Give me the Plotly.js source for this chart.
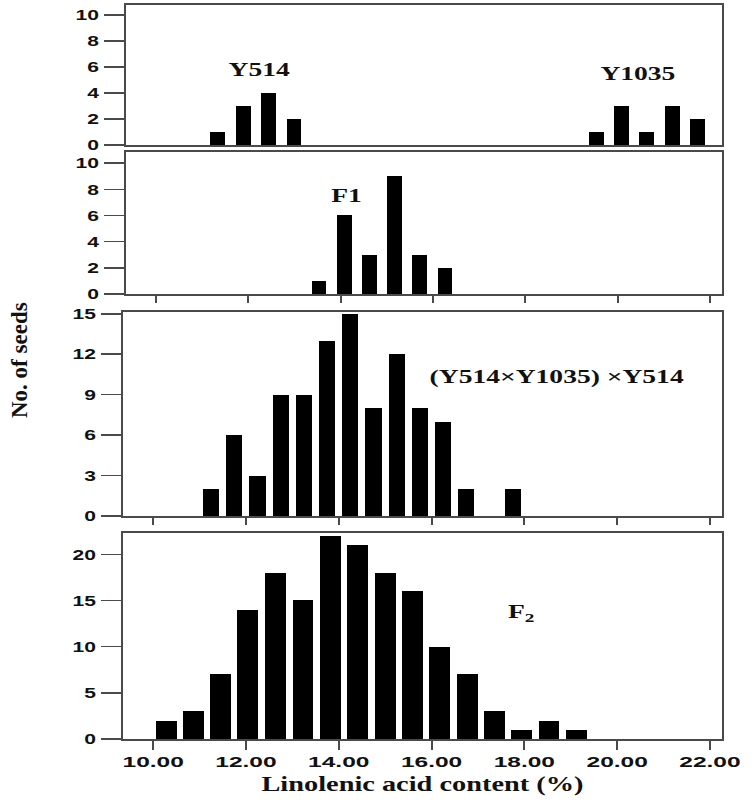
<!DOCTYPE html>
<html>
<head>
<meta charset="utf-8">
<script src="https://cdn.plot.ly/plotly-3.0.1.min.js"></script>
<style>
  html, body { margin: 0; padding: 0; background: #fff; }
  #chart { width: 753px; height: 801px; }
</style>
</head>
<body>
<div id="chart"></div>
<script>
// Bin centres (% linolenic acid) and seed counts
const y514Bins = [11.34, 11.89, 12.44, 12.99];
const y514Counts = [1, 3, 4, 2];
const y1035Bins = [19.54, 20.09, 20.63, 21.18, 21.73];
const y1035Counts = [1, 3, 1, 3, 2];
const f1Bins = [13.53, 14.08, 14.63, 15.17, 15.71, 16.26];
const f1Counts = [1, 6, 3, 9, 3, 2];
const bcBins = [11.25, 11.75, 12.25, 12.75, 13.25, 13.75, 14.25, 14.75, 15.25, 15.75, 16.25, 16.75, 17.75];
const bcCounts = [2, 6, 3, 9, 9, 13, 15, 8, 12, 8, 7, 2, 2];
const f2Bins = [10.29, 10.87, 11.45, 12.04, 12.64, 13.23, 13.82, 14.41, 15.00, 15.59, 16.18, 16.77, 17.35, 17.94, 18.53, 19.12];
const f2Counts = [2, 3, 7, 14, 18, 15, 22, 21, 18, 16, 10, 7, 3, 1, 2, 1];

const xTicks = [10, 12, 14, 16, 18, 20, 22];
const xTickText = ['10.00', '12.00', '14.00', '16.00', '18.00', '20.00', '22.00'];

const W = 753, H = 801;
const px = v => v / W;
const py = v => 1 - v / H;

const frame = '#4a4a4a';
const tickFont = { family: 'Liberation Sans, Arial, sans-serif', size: 14, color: '#111', weight: 'bold' };
const serif = 'Liberation Serif, Times New Roman, serif';

function bars(x, y, width, n) {
  return {
    type: 'bar', x, y, width,
    xaxis: 'x' + (n === 1 ? '' : n), yaxis: 'y' + (n === 1 ? '' : n),
    marker: { color: '#000', line: { width: 0 } },
    hoverinfo: 'x+y',
  };
}

const traces = [
  bars(y514Bins, y514Counts, 0.32, 1),
  bars(y1035Bins, y1035Counts, 0.32, 1),
  bars(f1Bins, f1Counts, 0.32, 2),
  bars(bcBins, bcCounts, 0.35, 3),
  bars(f2Bins, f2Counts, 0.45, 4),
];

function xAxis(left, anchor, opts) {
  return Object.assign({
    domain: [px(left), px(722)],
    anchor,
    range: [9.35, 22.26],
    showline: true, mirror: true, linecolor: frame, linewidth: 2,
    showgrid: false, zeroline: false,
    tickvals: xTicks, ticktext: xTickText,
    ticks: 'outside', ticklen: 7, tickwidth: 2, tickcolor: frame,
    showticklabels: false,
    tickfont: tickFont,
    fixedrange: true,
  }, opts);
}

function yAxis(top, bottom, max, vals, anchor) {
  return {
    domain: [py(bottom), py(top)],
    anchor,
    range: [0, max],
    tickvals: vals,
    showline: true, mirror: true, linecolor: frame, linewidth: 2,
    showgrid: false, zeroline: false,
    ticks: 'outside', ticklen: 20, tickwidth: 1.5, tickcolor: frame,
    tickfont: Object.assign({}, tickFont, { size: 15 }),
    ticklabelstandoff: 2,
    fixedrange: true,
  };
}

const layout = {
  width: W, height: H,
  margin: { l: 0, r: 0, t: 0, b: 0 },
  paper_bgcolor: '#fff', plot_bgcolor: '#fff',
  showlegend: false,
  bargap: 0,
  xaxis: xAxis(126, 'y', { ticks: '' }),
  yaxis: yAxis(5, 145, 10.77, [0, 2, 4, 6, 8, 10], 'x'),
  xaxis2: xAxis(126, 'y2', {}),
  yaxis2: yAxis(152, 294, 10.85, [0, 2, 4, 6, 8, 10], 'x2'),
  xaxis3: xAxis(123, 'y3', {}),
  yaxis3: yAxis(312, 516, 15.13, [0, 3, 6, 9, 12, 15], 'x3'),
  xaxis4: xAxis(123, 'y4', {
    ticklen: 9, showticklabels: true,
    title: { text: 'Linolenic acid content (%)', font: { family: serif, size: 21, color: '#111', weight: 'bold' }, standoff: 8 },
  }),
  yaxis4: yAxis(533, 739, 22.3, [0, 5, 10, 15, 20], 'x4'),
  annotations: [
    { text: 'Y514', x: 12.25, y: 5.8, xref: 'x', yref: 'y' },
    { text: 'Y1035', x: 20.43, y: 5.5, xref: 'x', yref: 'y' },
    { text: 'F1', x: 14.12, y: 7.56, xref: 'x2', yref: 'y2' },
    { text: '(Y514×Y1035) ×Y514', x: 18.7, y: 10.33, xref: 'x3', yref: 'y3' },
    { text: 'F<sub>2</sub>', x: 17.94, y: 13.6, xref: 'x4', yref: 'y4' },
  ].map(a => Object.assign({ showarrow: false, font: { family: serif, size: 19, color: '#111', weight: 'bold' } }, a)).concat([
    {
      text: 'No. of seeds', textangle: -90, showarrow: false,
      xref: 'paper', yref: 'paper', x: px(19), y: py(360), xanchor: 'center', yanchor: 'middle',
      font: { family: serif, size: 23, color: '#111', weight: 'bold' },
    },
  ]),
};

// the source figure is stretched sideways; widen horizontal text to match
function stretch(selector, factor) {
  document.querySelectorAll('#chart ' + selector).forEach(t => {
    const len = t.getComputedTextLength();
    if (len > 0) {
      t.setAttribute('textLength', (len * factor).toFixed(1));
      t.setAttribute('lengthAdjust', 'spacingAndGlyphs');
    }
  });
}

Plotly.newPlot('chart', traces, layout, { displayModeBar: false, staticPlot: true }).then(() => {
  stretch('g.xaxislayer-above text', 1.75);
  stretch('g.yaxislayer-above text', 1.4);
  stretch('g.infolayer text.x4title', 1.35);
  stretch('g.annotation:not(:last-child) text.annotation-text', 1.45);
});
</script>
</body>
</html>
